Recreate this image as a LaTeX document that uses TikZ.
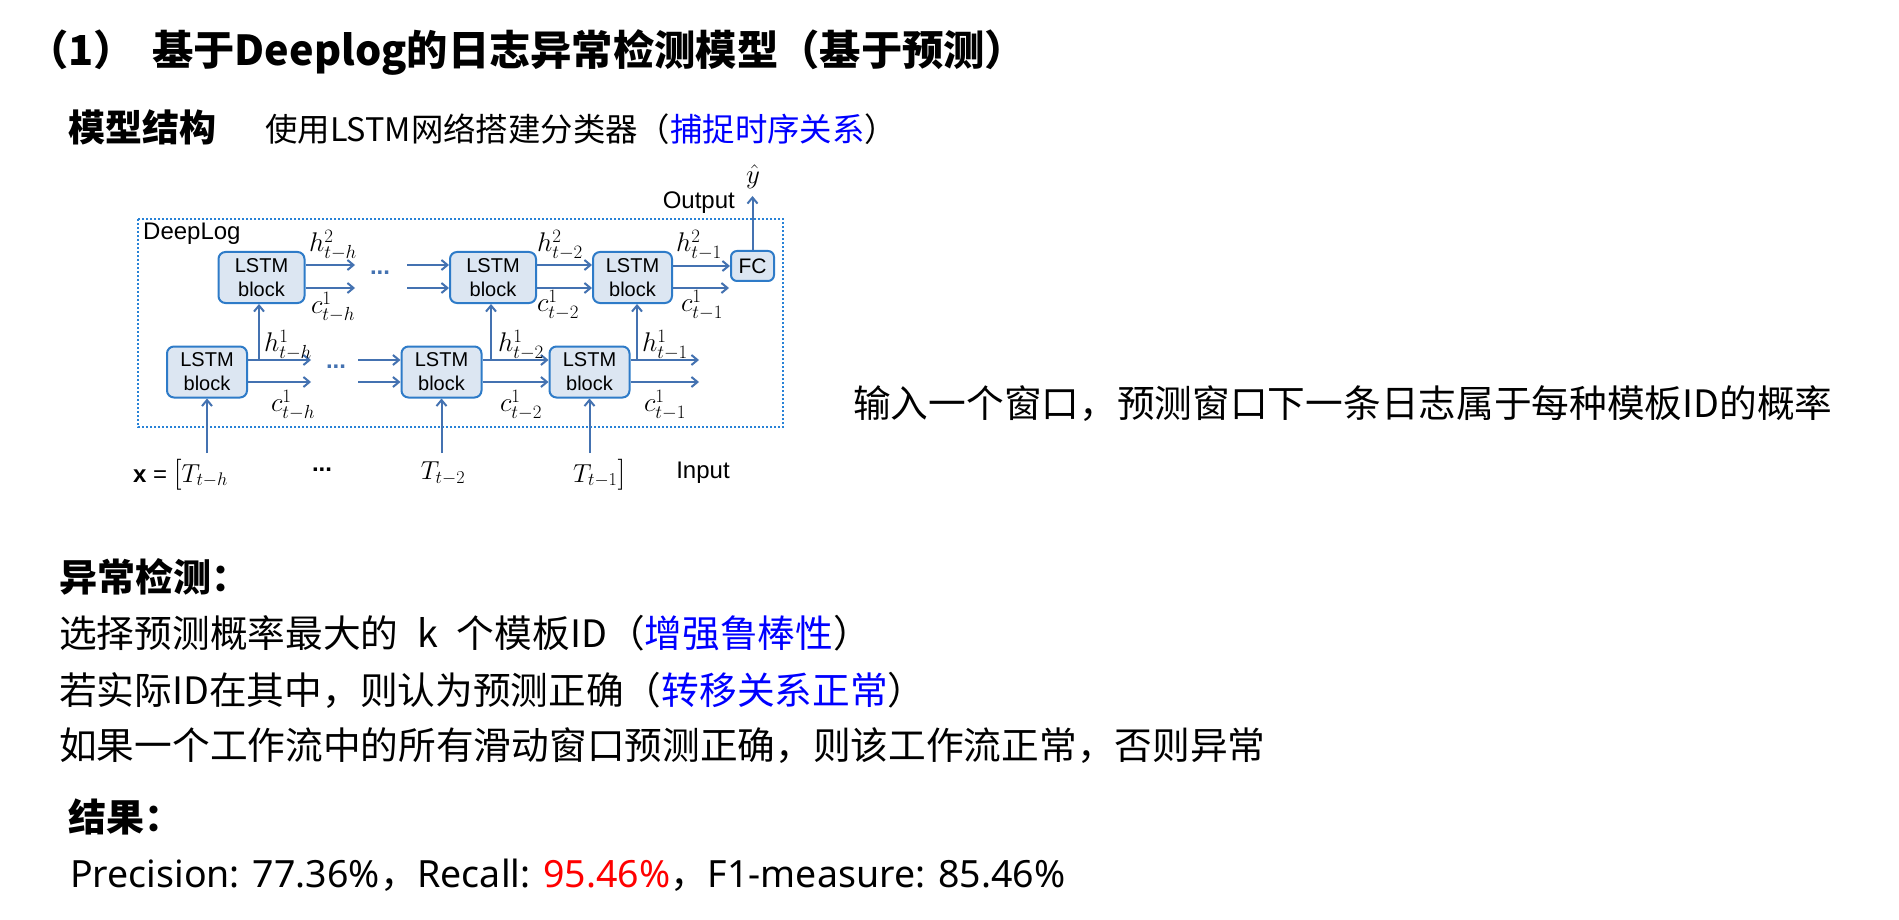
\RequirePackage{fix-cm}
\documentclass[tikz,border=0pt]{standalone}
\usepackage{fontspec}
\setmainfont{Liberation Sans}
\newfontfamily\cjk{Noto Sans CJK SC}
\newfontfamily\lat{Noto Sans}
\usetikzlibrary{arrows.meta}
\definecolor{arr}{RGB}{68,114,177}
\definecolor{bord}{RGB}{46,123,200}
\definecolor{bfill}{RGB}{220,230,242}
\definecolor{dotc}{RGB}{40,130,215}
\begin{document}
\begin{tikzpicture}[x=1pt,y=-1pt,
  lstm/.style={draw=bord, fill=bfill, line width=2pt, rounded corners=7pt, align=center,
    font=\fontsize{20}{24}\selectfont, inner sep=0pt},
  flow/.style={draw=arr, line width=2pt, -{Straight Barb[length=6pt,width=10pt]}},
  lbl/.style={inner sep=0pt, font=\fontsize{27}{27}\selectfont},
  en/.style={inner sep=0pt, font=\fontsize{24}{24}\selectfont},
  txt/.style={anchor=base west, inner sep=0pt},
  dots/.style={inner sep=0pt, text=arr, font=\fontsize{24}{24}\selectfont\bfseries},
]
\useasboundingbox (0,0) rectangle (1899,920);
\fill[white] (0,0) rectangle (1899,920);

% ---------- texts ----------
\node[txt, font=\cjk\bfseries\fontsize{41.3}{48}\selectfont] (t0) at (27,66) {（1）};
\node[txt, font=\cjk\bfseries\fontsize{41.3}{48}\selectfont] (t1) at (152,66) {基于Deeplog的日志异常检测模型（基于预测）};
\node[txt, font=\cjk\bfseries\fontsize{37}{44}\selectfont] (ms) at (68,142) {模型结构};
\node[txt, font=\cjk\fontsize{32.4}{40}\selectfont] (ms2) at (265,142) {使用LSTM网络搭建分类器（\textcolor{blue}{捕捉时序关系}）};
\node[txt, font=\cjk\fontsize{37.7}{46}\selectfont] (inp) at (853,417.6) {输入一个窗口，预测窗口下一条日志属于每种模板ID的概率};
\node[txt, font=\cjk\bfseries\fontsize{38}{46}\selectfont] (ad) at (59,591) {异常检测：};
\node[txt, font=\cjk\fontsize{37.7}{46}\selectfont] (l1) at (59,647.6) {选择预测概率最大的\hspace{0.5em}k\hspace{0.5em}个模板ID（\textcolor{blue}{增强鲁棒性}）};
\node[txt, font=\cjk\fontsize{37.7}{46}\selectfont] (l2) at (59,704.6) {若实际ID在其中，则认为预测正确（\textcolor{blue}{转移关系正常}）};
\node[txt, font=\cjk\fontsize{37.7}{46}\selectfont] (l3) at (59,759.6) {如果一个工作流中的所有滑动窗口预测正确，则该工作流正常，否则异常};
\node[txt, font=\cjk\bfseries\fontsize{38}{46}\selectfont] (rs) at (68,831) {结果：};
\node[txt, font=\lat\fontsize{37.5}{44}\selectfont] (pr) at (70,887) {Precision: 77.36\%{\cjk ，}Recall: \textcolor{red}{95.46\%}{\cjk ，}F1-measure: 85.46\%};

% ---------- diagram ----------
\draw[dotc, line width=2pt, dash pattern=on 2pt off 2pt] (138,219) rectangle (783,427);
\node[anchor=west, en] (dl) at (143,234) {DeepLog};

\node[lstm, minimum width=86pt, minimum height=51pt] (T1) at (261.5,277.5) {LSTM\\block};
\node[lstm, minimum width=86pt, minimum height=51pt] (T2) at (493,277.5) {LSTM\\block};
\node[lstm, minimum width=79pt, minimum height=51pt] (T3) at (632.5,277.5) {LSTM\\block};
\node[lstm, minimum width=80pt, minimum height=51pt] (B1) at (207,372) {LSTM\\block};
\node[lstm, minimum width=80pt, minimum height=51pt] (B2) at (441.5,372) {LSTM\\block};
\node[lstm, minimum width=80pt, minimum height=51pt] (B3) at (589.5,372) {LSTM\\block};
\node[draw=bord, fill=bfill, line width=2pt, rounded corners=6pt, inner sep=0pt,
  minimum width=43pt, minimum height=30pt, font=\fontsize{21}{24}\selectfont] (FC) at (752.5,266) {FC};

\coordinate (yh) at (0,265);
\coordinate (yc) at (0,288);
\coordinate (bh) at (0,360);
\coordinate (bc) at (0,382);

% top row
\coordinate (a1) at (355,265); \coordinate (a2) at (355,288);
\draw[flow] (T1.east |- a1) -- (a1);
\draw[flow] (T1.east |- a2) -- (a2);
\node[dots] (d1) at (380,273) {...};
\coordinate (a3) at (407,265); \coordinate (a4) at (407,288);
\draw[flow] (a3) -- (T2.west |- a3);
\draw[flow] (a4) -- (T2.west |- a4);
\draw[flow] (T2.east |- yh) -- (T3.west |- yh);
\draw[flow] (T2.east |- yc) -- (T3.west |- yc);
\draw[flow] (T3.east |- FC.west) -- (FC.west);
\coordinate (a5) at (729,288);
\draw[flow] (T3.east |- a5) -- (a5);
\coordinate (yo) at (752.5,196);
\draw[flow] (FC.north) -- (yo);
\node[lbl] (yhat) at (753,177) {$\hat{y}$};
\node[en, anchor=east] (out) at (735,203) {Output};

% bottom row
\coordinate (b1) at (311,360); \coordinate (b2) at (311,382);
\draw[flow] (B1.east |- b1) -- (b1);
\draw[flow] (B1.east |- b2) -- (b2);
\node[dots] (d2) at (336,367) {...};
\coordinate (b3) at (358,360); \coordinate (b4) at (358,382);
\draw[flow] (b3) -- (B2.west |- b3);
\draw[flow] (b4) -- (B2.west |- b4);
\draw[flow] (B2.east |- bh) -- (B3.west |- bh);
\draw[flow] (B2.east |- bc) -- (B3.west |- bc);
\coordinate (b5) at (699,360); \coordinate (b6) at (699,382);
\draw[flow] (B3.east |- b5) -- (b5);
\draw[flow] (B3.east |- b6) -- (b6);

% vertical links
\coordinate (v1) at (259,360); \coordinate (v2) at (491,360); \coordinate (v3) at (637,360);
\draw[flow] (v1) -- (v1 |- T1.south);
\draw[flow] (v2) -- (v2 |- T2.south);
\draw[flow] (v3) -- (v3 |- T3.south);

% inputs
\coordinate (iy) at (0,453);
\draw[flow] (B1.south |- iy) -- (B1.south);
\draw[flow] (B2.south |- iy) -- (B2.south);
\draw[flow] (B3.south |- iy) -- (B3.south);

% labels
\node[lbl] (l_h2a) at (333,245) {$h^{2}_{t-h}$};
\node[lbl] (l_c1a) at (333,307) {$c^{1}_{t-h}$};
\node[lbl] (l_h2b) at (560,245) {$h^{2}_{t-2}$};
\node[lbl] (l_c1b) at (558,305) {$c^{1}_{t-2}$};
\node[lbl] (l_h2c) at (699,245) {$h^{2}_{t-1}$};
\node[lbl] (l_c1c) at (702,305) {$c^{1}_{t-1}$};
\node[lbl] (l_h1a) at (288,345) {$h^{1}_{t-h}$};
\node[lbl] (l_c1d) at (293,405) {$c^{1}_{t-h}$};
\node[lbl] (l_h1b) at (521,345) {$h^{1}_{t-2}$};
\node[lbl] (l_c1e) at (521,405) {$c^{1}_{t-2}$};
\node[lbl] (l_h1c) at (665,345) {$h^{1}_{t-1}$};
\node[lbl] (l_c1f) at (665,405) {$c^{1}_{t-1}$};

% input row
\node[en, anchor=base west] (xin) at (133,482) {\textbf{x} = {\fontsize{31}{31}\selectfont$[$}{\fontsize{26}{26}\selectfont$T_{t-h}$}};
\node[en] (xd) at (322,470) {\textbf{...}};
\node[lbl, font=\fontsize{26}{26}\selectfont] (x2) at (443,473) {$T_{t-2}$};
\node[en, anchor=base west] (x1) at (573,482) {{\fontsize{26}{26}\selectfont$T_{t-1}$}{\fontsize{31}{31}\selectfont$]$}};
\node[en] (ip) at (703,473) {Input};
\end{tikzpicture}
\end{document}
